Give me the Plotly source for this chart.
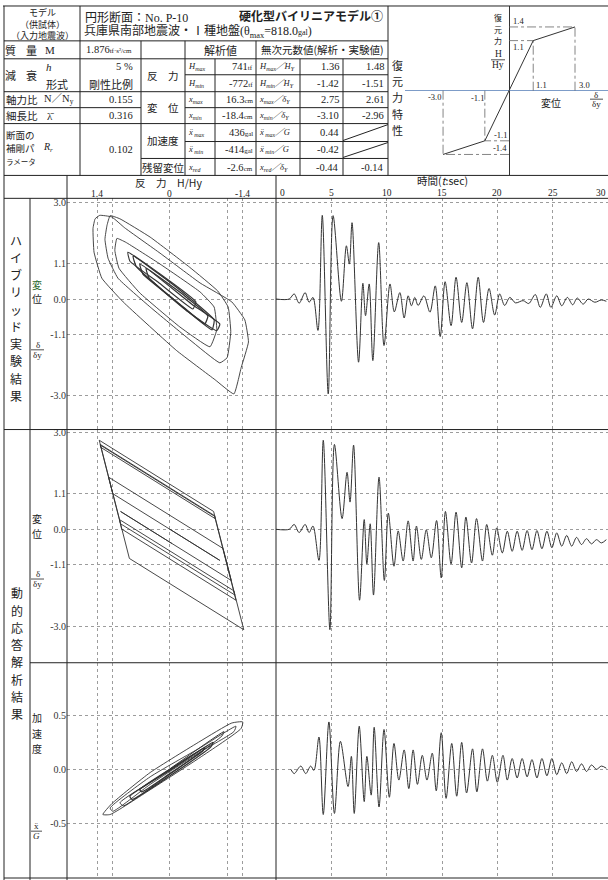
import plotly.graph_objects as go

W, H = 608, 880
JP = "Noto Sans CJK JP"
NUM = "Liberation Serif, Noto Sans CJK JP"
INK = "#222222"
TRACE = "#333333"
GRID = "#9c9c9c"

# ---------------- sheet header ----------------
header_left = ["モデル", "（供試体）", "（入力地震波）"]
title_section = "円形断面：No. P-10"
title_model = "硬化型バイリニアモデル①"
title_wave = "兵庫県南部地震波・Ⅰ種地盤(θ<sub>max</sub>=818.0<span style='font-size:8px'>gal</span>)"

prop_mass = "1.876<span style='font-size:7px'>tf·s²/cm</span>"
prop_damping = "5 %"
prop_damping_type = "剛性比例"
prop_axial = "0.155"
prop_slender = "0.316"
prop_stiffener = "0.102"

response_groups = ["反　力", "変　位", "加速度", "残留変位"]
response_symbols = ["H<sub>max</sub>", "H<sub>min</sub>", "x<sub>max</sub>", "x<sub>min</sub>",
                    "x\u0308<sub> max</sub>", "x\u0308<sub> min</sub>", "x<sub>red</sub>"]
response_values = ["741<span style='font-size:7px'>tf</span>", "-772<span style='font-size:7px'>tf</span>",
                   "16.3<span style='font-size:7px'>cm</span>", "-18.4<span style='font-size:7px'>cm</span>",
                   "436<span style='font-size:7px'>gal</span>", "-414<span style='font-size:7px'>gal</span>",
                   "-2.6<span style='font-size:7px'>cm</span>"]
ratio_names = ["H<sub>max</sub>／H<sub>Y</sub>", "H<sub>min</sub>／H<sub>Y</sub>",
               "x<sub>max</sub>／δ<sub>Y</sub>", "x<sub>min</sub>／δ<sub>Y</sub>",
               "x\u0308<sub> max</sub>／G", "x\u0308<sub> min</sub>／G", "x<sub>red</sub>／δ<sub>Y</sub>"]
ratio_analysis = ["1.36", "-1.42", "2.75", "-3.10", "0.44", "-0.42", "-0.44"]
ratio_experiment = ["1.48", "-1.51", "2.61", "-2.96", "", "", "-0.14"]

# ---------------- restoring force skeleton ----------------
skel_disp = [-3.0, -1.1, 1.1, 3.0]
skel_force = [-1.4, -1.1, 1.1, 1.4]

# ---------------- axis ticks ----------------
force_ticks = [1.4, 0, -1.4]
force_tick_text = ["1.4", "0", "-1.4"]
force_grid = [1.4, 1.1, 0, -1.1, -1.4]
disp_ticks = [3.0, 1.1, 0.0, -1.1, -3.0]
disp_tick_text = ["3.0", "1.1", "0.0", "-1.1", "-3.0"]
acc_ticks = [0.5, 0.0, -0.5]
acc_tick_text = ["0.5", "0.0", "-0.5"]
time_ticks = [0, 5, 10, 15, 20, 25, 30]

# ---------------- hybrid test: displacement history ----------------
t_exp = [0.0, 1.19, 1.64, 2.09, 2.63, 2.99, 3.34, 3.79, 4.18, 4.72, 5.16, 5.91, 6.36, 6.63, 6.87,
         7.46, 7.85, 8.09, 8.42, 8.75, 9.28, 9.76, 10.30, 10.69, 11.19, 11.58, 11.94, 12.24, 12.54,
         12.84, 13.37, 13.91, 14.39, 14.84, 15.28, 15.82, 16.27, 16.78, 17.25, 17.76, 18.27, 18.75,
         19.25, 19.76, 20.21, 20.66, 21.13, 21.64, 22.33, 22.84, 23.43, 23.88, 24.42, 24.84, 25.37,
         25.82, 26.33, 26.81, 27.22, 27.76, 28.21, 28.81, 29.40, 29.85]
d_exp = [0.0, 0.0, 0.16, -0.13, 0.20, -0.10, 0.05, -0.98, 2.61, -2.96, 2.60, -0.07, 1.66, 1.09, 2.38,
         -1.97, 0.49, -0.52, 0.47, -1.92, 1.76, -1.45, 0.47, -0.40, 0.20, -0.59, 0.10, -0.21, 0.05,
         -0.20, 0.10, -0.41, 0.41, -1.17, 0.54, -0.83, 0.68, -0.73, 0.51, -0.93, 0.68, -0.73,
         0.33, -0.50, 0.16, -0.20, 0.05, -0.12, -0.05, -0.14, 0.14, -0.26, 0.16, -0.26, 0.10,
         -0.21, 0.05, -0.18, 0.03, -0.16, 0.00, -0.10, -0.03, -0.07]

# ---------------- analysis: displacement history ----------------
t_ana = [0.0, 1.19, 1.64, 2.09, 2.63, 2.99, 3.34, 3.88, 4.27, 4.87, 5.28, 5.97, 6.42, 6.69, 7.01,
         7.55, 7.97, 8.21, 8.51, 8.81, 9.31, 9.79, 10.15, 10.66, 11.04, 11.49, 11.94, 12.39, 12.69,
         13.13, 13.58, 14.03, 14.51, 14.93, 15.31, 15.82, 16.27, 16.78, 17.16, 17.67, 18.12, 18.66,
         19.04, 19.55, 19.94, 20.45, 20.90, 21.34, 21.79, 22.24, 22.69, 23.13, 23.58, 24.03, 24.48,
         24.93, 25.37, 25.82, 26.27, 26.72, 27.16, 27.61, 28.06, 28.51, 28.96, 29.40, 29.85]
d_ana = [0.0, 0.0, 0.15, -0.10, 0.15, -0.10, 0.10, -0.96, 2.75, -3.10, 2.62, 0.33, 1.76, 0.84, 2.60,
         -2.19, 0.30, -1.07, 0.17, -2.03, 1.61, -1.58, 0.50, -1.14, -0.05, -0.98, 0.26, -0.98, 0.10,
         -0.93, -0.02, -0.88, 0.27, -1.50, 0.55, -1.07, 0.53, -1.19, 0.38, -1.04, 0.33, -0.98,
         0.15, -0.80, 0.04, -0.73, -0.06, -0.68, -0.06, -0.65, -0.04, -0.63, -0.04, -0.60, -0.06,
         -0.57, -0.11, -0.52, -0.19, -0.52, -0.25, -0.47, -0.29, -0.45, -0.32, -0.42, -0.32]

# ---------------- analysis: acceleration history ----------------
t_acc = [1.34, 1.64, 2.24, 2.69, 3.13, 3.43, 3.88, 4.27, 4.78, 5.28, 5.82, 6.51, 6.81, 7.07, 7.52,
         7.97, 8.21, 8.60, 8.87, 9.31, 9.76, 10.24, 10.66, 11.10, 11.58, 12.00, 12.39, 12.78, 13.22,
         13.64, 14.12, 14.48, 14.93, 15.37, 15.88, 16.33, 16.78, 17.22, 17.76, 18.15, 18.66, 19.10,
         19.55, 20.00, 20.51, 20.90, 21.34, 21.79, 22.24, 22.69, 23.13, 23.58, 24.03, 24.48, 24.93,
         25.37, 25.82, 26.27, 26.72, 27.16, 27.61, 28.06, 28.51, 28.96, 29.40, 29.85]
a_acc = [0.0, -0.04, 0.03, -0.04, 0.03, -0.01, 0.30, -0.42, 0.44, -0.41, 0.26, -0.16, 0.12, -0.41, 0.40,
         -0.30, 0.12, -0.24, 0.39, -0.35, 0.37, -0.26, 0.24, -0.10, 0.18, -0.18, 0.18, -0.14, 0.13,
         -0.10, 0.15, -0.20, 0.34, -0.27, 0.24, -0.25, 0.25, -0.22, 0.19, -0.21, 0.19, -0.11,
         0.13, -0.12, 0.13, -0.10, 0.10, -0.08, 0.10, -0.07, 0.09, -0.08, 0.10, -0.06, 0.10,
         -0.05, 0.06, -0.04, 0.07, -0.02, 0.05, -0.02, 0.04, 0.00, 0.03, 0.01]

# ---------------- hybrid test: force-displacement loops ----------------
exp_a_force = [1.35, 1.12, 0.87, 0.19, -0.58, -1.19, -1.44, -1.51, -1.37, -1.23, -0.87, -0.13, 0.90, 1.31, 1.46, 1.48, 1.44, 1.35]
exp_a_disp = [2.61, 2.56, 2.22, 1.43, 0.50, -0.09, -0.65, -1.34, -2.14, -2.96, -2.52, -1.61, -0.09, 0.65, 1.46, 2.20, 2.50, 2.61]
exp_b_force = [1.15, 0.96, 0.38, -0.38, -0.92, -1.12, -1.17, -1.10, -0.96, -0.38, 0.38, 1.00, 1.19, 1.25, 1.21, 1.15]
exp_b_disp = [2.60, 2.50, 1.93, 0.99, 0.25, -0.25, -1.02, -1.83, -1.99, -1.27, -0.25, 0.65, 1.27, 1.86, 2.30, 2.60]
exp_c_force = [1.02, 0.85, 0.19, -0.58, -0.85, -0.90, -0.77, -0.19, 0.58, 0.98, 1.06, 1.02]
exp_c_disp = [1.89, 1.77, 1.09, 0.22, -0.25, -0.96, -1.49, -0.87, 0.19, 0.96, 1.52, 1.89]
exp_d1_force = [0.71, -0.10, -0.85, -0.81, -0.04, 0.65, 0.71]
exp_d1_disp = [1.34, 0.40, -0.65, -0.96, 0.03, 1.02, 1.34]
exp_d2_force = [0.58, -0.29, -0.73, -0.67, -0.19, 0.52, 0.58]
exp_d2_disp = [1.09, 0.09, -0.53, -0.78, -0.16, 0.78, 1.09]
exp_d3_force = [0.46, -0.42, -0.96, -0.90, -0.35, 0.40, 0.46]
exp_d3_disp = [0.96, -0.16, -0.78, -0.99, -0.40, 0.65, 0.96]
exp_d4_force = [0.81, 0.19, -0.50, -0.44, 0.23, 0.77, 0.81]
exp_d4_disp = [1.46, 0.78, -0.09, -0.31, 0.53, 1.18, 1.46]

# ---------------- analysis: force-displacement path ----------------
ana_force = [0.00, -0.96, 1.10, 1.36, -0.84, -1.42, 0.78, 1.34, -0.86, -0.87, 0.56, -0.36, 1.33, 1.34,
             -0.86, -1.27, 0.93, 0.97, -0.40, 0.84, -1.23, -1.25, 0.95, 1.18, -1.02, -1.18, 0.90,
             -0.74, 0.95, -1.10, 0.60, -0.04]
ana_disp = [0.00, -0.96, 1.10, 2.75, 0.55, -3.10, -0.90, 2.62, 0.42, 0.33, 1.76, 0.84, 2.53, 2.60,
            0.40, -2.19, 0.01, 0.30, -1.07, 0.17, -1.90, -2.03, 0.17, 1.61, -0.59, -1.58, 0.50,
            -1.14, 0.55, -1.50, 0.20, -0.44]

# ---------------- analysis: force-acceleration loops ----------------
acc_a_force = [1.29, 1.12, 0.38, -0.58, -1.19, -1.40, -1.37, -0.58, 0.38, 1.15, 1.29]
acc_a_accel = [-0.42, -0.32, -0.03, 0.26, 0.43, 0.44, 0.38, 0.11, -0.19, -0.42, -0.42]
acc_b_force = [1.15, 0.38, -0.58, -1.27, -1.23, -0.58, 0.38, 1.10, 1.15]
acc_b_accel = [-0.36, -0.07, 0.20, 0.40, 0.35, 0.16, -0.14, -0.39, -0.36]
acc_c_force = [0.96, 0.19, -1.04, -1.00, 0.19, 0.90, 0.96]
acc_c_accel = [-0.31, -0.06, 0.35, 0.31, -0.11, -0.34, -0.31]
acc_d_force = [0.77, 0.00, -0.83, -0.79, 0.00, 0.73, 0.77]
acc_d_accel = [-0.25, -0.01, 0.25, 0.21, -0.06, -0.28, -0.25]
acc_e_force = [0.58, 0.00, -0.67, -0.63, 0.00, 0.54, 0.58]
acc_e_accel = [-0.19, 0.00, 0.20, 0.17, -0.04, -0.21, -0.19]

fig = go.Figure()


def px(x):
    return x / W


def py(y):
    return 1 - y / H


def seg(x0, y0, x1, y1, color=INK, width=1):
    fig.add_shape(type="line", xref="paper", yref="paper",
                  x0=px(x0), y0=py(y0), x1=px(x1), y1=py(y1),
                  line=dict(color=color, width=width))


def text(x, y, s, size=10.5, family=JP, xanchor="center", yanchor="middle",
         color=INK, xref="paper", yref="paper", xshift=0, yshift=0):
    fig.add_annotation(x=px(x) if xref == "paper" else x,
                       y=py(y) if yref == "paper" else y,
                       xref=xref, yref=yref, text=s, showarrow=False,
                       xanchor=xanchor, yanchor=yanchor, xshift=xshift, yshift=yshift,
                       borderpad=0, font=dict(family=family, size=size, color=color))


def vtext(x, y_first, chars, step, size, colors=None):
    # vertical writing: one annotation per character
    for i, ch in enumerate(chars):
        text(x, y_first + step * i, ch, size=size,
             color=(colors[i] if colors else INK))


def path(xs, ys, xa, ya, width=0.9, color=TRACE, shape="linear", smoothing=1.0, dash=None):
    fig.add_trace(go.Scatter(x=xs, y=ys, xaxis=xa, yaxis=ya, mode="lines",
                             line=dict(color=color, width=width, shape=shape,
                                       smoothing=smoothing, dash=dash),
                             hoverinfo="skip", showlegend=False))


# ---- force/displacement hysteresis, hybrid test ----
for fx, dy, w in [(exp_a_force, exp_a_disp, 0.9), (exp_b_force, exp_b_disp, 0.9),
                  (exp_c_force, exp_c_disp, 0.9), (exp_d1_force, exp_d1_disp, 1.2),
                  (exp_d2_force, exp_d2_disp, 1.3), (exp_d3_force, exp_d3_disp, 1.2),
                  (exp_d4_force, exp_d4_disp, 1.1)]:
    path(fx, dy, "x", "y", width=w, shape="spline", smoothing=0.35)
path(t_exp, d_exp, "x2", "y2", width=1.0, shape="spline", smoothing=0.9)

# ---- force/displacement path, analysis ----
path(ana_force, ana_disp, "x3", "y3", width=0.9)
path(t_ana, d_ana, "x4", "y4", width=1.0, shape="spline", smoothing=0.9)

# ---- force/acceleration loops, analysis ----
for fx, ay, w in [(acc_a_force, acc_a_accel, 0.9), (acc_b_force, acc_b_accel, 0.9),
                  (acc_c_force, acc_c_accel, 1.0), (acc_d_force, acc_d_accel, 1.3),
                  (acc_e_force, acc_e_accel, 1.4)]:
    path(fx, ay, "x5", "y5", width=w, shape="spline", smoothing=0.5)
path(t_acc, a_acc, "x6", "y6", width=1.0, shape="spline", smoothing=0.9)

# ---- bilinear skeleton with dash-dot guides ----
for xv, yv in zip(skel_disp, skel_force):
    path([xv, xv], [0, yv], "x7", "y7", width=0.8, color="#666", dash="dashdot")
    path([0, xv], [yv, yv], "x7", "y7", width=0.8, color="#666", dash="dashdot")
path(skel_disp, skel_force, "x7", "y7", width=1.0, color=TRACE)

# ---------------- axes ----------------
grid = dict(showgrid=True, gridcolor=GRID, griddash="dot", gridwidth=1,
            zeroline=False, showline=False, ticks="", fixedrange=True)
tickfont = dict(family=NUM, size=10, color="#333")
force_range = [1.98, -2.04]
time_range = [-0.001, 30.001]
disp1_range = [-4.07, 3.14]
disp2_range = [-4.12, 3.08]
acc_range = [-1.01, 0.99]
hx = [px(67), px(276)]
tx = [px(276), 1.0]
p1 = [py(428), py(196)]
p2 = [py(662), py(428)]
p3 = [py(878), py(662)]
time_grid = time_ticks[1:-1]

axes = dict(
    xaxis=dict(domain=hx, range=force_range, anchor="y", tickvals=force_grid, showticklabels=False, **grid),
    yaxis=dict(domain=p1, range=disp1_range, anchor="x", tickvals=disp_ticks, ticktext=disp_tick_text,
               tickfont=tickfont, **grid),
    xaxis2=dict(domain=tx, range=time_range, anchor="y2", tickvals=time_grid, showticklabels=False, **grid),
    yaxis2=dict(domain=p1, range=disp1_range, anchor="x2", tickvals=disp_ticks, showticklabels=False, **grid),
    xaxis3=dict(domain=hx, range=force_range, anchor="y3", tickvals=force_grid, showticklabels=False, **grid),
    yaxis3=dict(domain=p2, range=disp2_range, anchor="x3", tickvals=disp_ticks, ticktext=disp_tick_text,
                tickfont=tickfont, **grid),
    xaxis4=dict(domain=tx, range=time_range, anchor="y4", tickvals=time_grid, showticklabels=False, **grid),
    yaxis4=dict(domain=p2, range=disp2_range, anchor="x4", tickvals=disp_ticks, showticklabels=False, **grid),
    xaxis5=dict(domain=hx, range=force_range, anchor="y5", tickvals=force_grid, showticklabels=False, **grid),
    yaxis5=dict(domain=p3, range=acc_range, anchor="x5", tickvals=acc_ticks, ticktext=acc_tick_text,
                tickfont=tickfont, **grid),
    xaxis6=dict(domain=tx, range=time_range, anchor="y6", tickvals=time_grid, showticklabels=False, **grid),
    yaxis6=dict(domain=p3, range=acc_range, anchor="x6", tickvals=acc_ticks, showticklabels=False, **grid),
    xaxis7=dict(domain=[px(405), 1.0], range=[-4.73, 4.5], anchor="y7", showgrid=False, showticklabels=False,
                ticks="", zeroline=True, zerolinecolor="#333", zerolinewidth=1, fixedrange=True),
    yaxis7=dict(domain=[py(173), py(3)], range=[-1.86, 1.86], anchor="x7", showgrid=False,
                showticklabels=False, ticks="", zeroline=True, zerolinecolor="#7d9cc8",
                zerolinewidth=1, fixedrange=True),
)

# ---------------- table rules ----------------
seg(3, 3, 608, 3)
seg(4, 3, 4, 880)
seg(4, 38, 388, 38)
seg(4, 56, 388, 56)
seg(185, 72, 388, 72)
seg(4, 89, 388, 89)
seg(4, 105, 141, 105)
seg(185, 105, 388, 105)
seg(4, 121, 388, 121)
seg(185, 139, 388, 139)
seg(141, 156, 388, 156)
seg(4, 173, 608, 173)
for xv, y0 in [(80, 3), (141, 38), (185, 38), (215, 56), (256, 38), (300, 56), (343, 56), (388, 3)]:
    seg(xv, y0, xv, 173)
seg(343, 138, 388, 122)
seg(343, 155, 388, 140)

seg(4, 196, 608, 196)
seg(30, 196, 30, 880)
seg(67, 173, 67, 880)
seg(276, 173, 276, 880)
seg(4, 428, 608, 428)
seg(30, 662, 608, 662)
seg(4, 878, 608, 878)

# ---------------- table text ----------------
text(42, 21, "<br>".join(header_left), size=9)
text(84, 15, title_section, size=12, family=NUM, xanchor="left")
text(384, 13, "<b>" + title_model + "</b>", size=12, xanchor="right")
text(83, 29, title_wave, size=12, family=NUM, xanchor="left")

text(10, 47, "質", size=11)
text(31, 47, "量", size=11)
text(50, 47, "M", size=11, family=NUM)
text(85, 47, prop_mass, size=10.5, family=NUM, xanchor="left")
text(220, 47, "解析値", size=11)
text(322, 47, "無次元数値(解析・実験値)", size=10.5)

text(10, 72, "減", size=11)
text(31, 72, "衰", size=11)
text(49, 64, "<i>h</i>", size=11, family=NUM)
text(57, 81, "形式", size=11)
text(134, 64, prop_damping, size=10.5, family=NUM, xanchor="right")
text(111, 81, prop_damping_type, size=11)

text(5, 97, "軸力比", size=10.5, xanchor="left")
text(43, 97, "N／N<sub>y</sub>", size=10.5, family=NUM, xanchor="left")
text(134, 97, prop_axial, size=10.5, family=NUM, xanchor="right")
text(5, 113, "細長比", size=10.5, xanchor="left")
text(50, 113, "λ\u0304", size=11, family=NUM)
text(134, 113, prop_slender, size=10.5, family=NUM, xanchor="right")
text(5, 132, "断面の", size=9.5, xanchor="left")
text(5, 145, "補剛パ", size=9.5, xanchor="left")
text(5, 159, "ラメータ", size=7.5, xanchor="left")
text(48, 145, "<i>R<sub>r</sub></i>", size=10, family=NUM)
text(134, 147, prop_stiffener, size=10.5, family=NUM, xanchor="right")

for s, yv in zip(response_groups, [73, 105, 138, 165]):
    text(163, yv, s, size=10.5)

row_y = [64, 81, 97, 113, 130, 147, 165]
for i, yv in enumerate(row_y):
    text(187, yv, "<i>" + response_symbols[i] + "</i>", size=8.5, family=NUM, xanchor="left")
    text(254, yv, response_values[i], size=10.5, family=NUM, xanchor="right")
    text(258, yv, "<i>" + ratio_names[i] + "</i>", size=8.5, family=NUM, xanchor="left")
    text(340, yv, ratio_analysis[i], size=10.5, family=NUM, xanchor="right")
    if ratio_experiment[i]:
        text(385, yv, ratio_experiment[i], size=10.5, family=NUM, xanchor="right")

vtext(397, 62, "復元力特性", 16.3, 11)

# ---------------- skeleton labels ----------------
vtext(498, 15, "復元力", 11.3, 8)
text(-0.5, 0.81, "H", size=9.5, family=NUM, xref="x7", yref="y7")
text(-0.5, 0.57, "Hy", size=9.5, family=NUM, xref="x7", yref="y7")
seg(491, 57, 505, 57, width=0.8)
text(0.15, skel_force[3], "1.4", size=8.5, family=NUM, xanchor="left", yanchor="bottom", xref="x7", yref="y7")
text(0.15, skel_force[2], "1.1", size=8.5, family=NUM, xanchor="left", yanchor="top", xref="x7", yref="y7")
text(skel_disp[2], 0, "1.1", size=8.5, family=NUM, xanchor="left", yanchor="bottom", xref="x7", yref="y7", xshift=2)
text(skel_disp[3], 0, "3.0", size=8.5, family=NUM, xanchor="left", yanchor="bottom", xref="x7", yref="y7", xshift=3)
text(skel_disp[0], 0, "-3.0", size=8.5, family=NUM, xanchor="right", yanchor="top", xref="x7", yref="y7", xshift=-1)
text(skel_disp[1], 0, "-1.1", size=8.5, family=NUM, xanchor="right", yanchor="top", xref="x7", yref="y7", yshift=-1)
text(-0.05, skel_force[1], "-1.1", size=8.5, family=NUM, xanchor="right", yanchor="bottom", xref="x7", yref="y7")
text(-0.05, skel_force[0], "-1.4", size=8.5, family=NUM, xanchor="right", yanchor="bottom", xref="x7", yref="y7")
text(1.9, -0.27, "変位", size=10, xref="x7", yref="y7")
text(596, 92, "δ", size=9, family=NUM)
text(596, 101, "δy", size=9, family=NUM)
seg(590, 96.5, 603, 96.5, width=0.8)

# ---------------- column headers ----------------
text(168, 180, "反　力　H/Hy", size=10.5)
for v, s in zip(force_ticks, force_tick_text):
    text(v, 191.5, s, size=9.5, family=NUM, xref="x")
text(442, 178, "時間(<i>t</i>:sec)", size=10.5)
for v in time_ticks:
    if v == time_ticks[0]:
        text(v, 190.5, str(v), size=9.5, family=NUM, xref="x2", xanchor="left", xshift=3)
    elif v == time_ticks[-1]:
        text(v, 190.5, str(v), size=9.5, family=NUM, xref="x2", xanchor="right", xshift=-1)
    else:
        text(v, 190.5, str(v), size=9.5, family=NUM, xref="x2")

# ---------------- row labels ----------------
vtext(16, 238, "ハイブリッド実験結果", 17.3, 12)
vtext(17, 592, "動的応答解析結果", 17.3, 12)
vtext(37, 282, "変位", 14.5, 10, colors=["#2d6a2d", INK])
text(38, 343, "δ", size=9, family=NUM)
text(37, 353, "δy", size=9, family=NUM)
seg(31, 348, 44, 348, width=0.8)
vtext(37, 517, "変位", 15, 10)
text(38, 573, "δ", size=9, family=NUM)
text(37, 583, "δy", size=9, family=NUM)
seg(31, 578, 44, 578, width=0.8)
vtext(37, 717, "加速度", 15.5, 10)
text(36, 826, "x\u0308", size=9, family=NUM)
text(36, 836, "<i>G</i>", size=9, family=NUM)
seg(31, 831, 42, 831, width=0.8)

fig.update_layout(
    width=W, height=H, autosize=False,
    margin=dict(l=0, r=0, t=0, b=0, pad=0),
    paper_bgcolor="white", plot_bgcolor="white",
    showlegend=False,
    font=dict(family=NUM, size=10, color=INK),
    **axes,
)

fig.write_html("out.html", config={"displayModeBar": False})
